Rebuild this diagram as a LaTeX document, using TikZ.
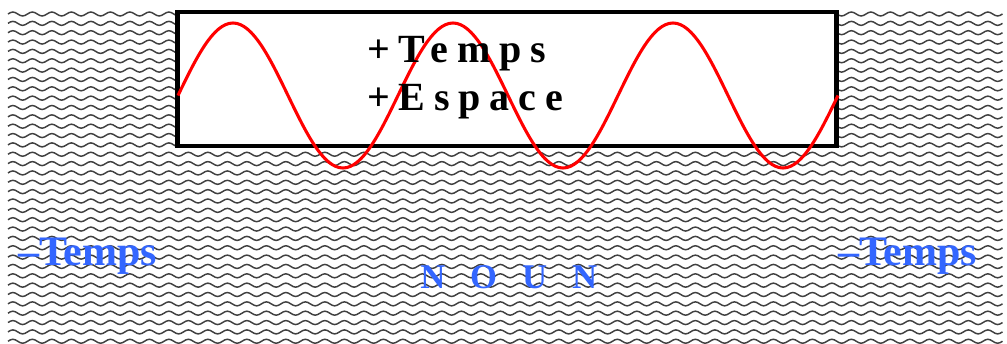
\documentclass[tikz,border=0pt]{standalone}
\usepackage{fontspec}
\setmainfont{Liberation Serif}
\usetikzlibrary{positioning}
\definecolor{nounblue}{RGB}{51,102,255}

\begin{document}
\begin{tikzpicture}[
    x=0.75pt, y=-0.75pt,
    wave/.style={draw=black!75, line width=1.1pt},
    frame/.style={draw=black, line width=3.6pt, fill=white},
    signal/.style={draw=red, line width=2.3pt},
    plus/.style={anchor=base west, inner sep=0pt, font=\bfseries\fontsize{30}{36}\selectfont\addfontfeature{LetterSpace=22}},
    minus/.style={anchor=base west, inner sep=0pt, text=nounblue, font=\bfseries\fontsize{31.5}{36}\selectfont}
]

\useasboundingbox (0,0) rectangle (1007,343);

% textured ground
\foreach \r in {0,...,35}
  \draw[wave] (8,{14+9.35*\r}) \foreach \k in {1,...,51} { sin ++(4.875,-2) cos ++(4.875,2) sin ++(4.875,2) cos ++(4.875,-2) };

% box and wave
\draw[frame] (177.5,12) rectangle (836.5,146);
\draw[signal] (178,95.5) \foreach \k in {1,2,3} { sin ++(55,-72.5) cos ++(55,72.5) sin ++(55,72.5) cos ++(55,-72.5) };

\node[plus] (time) at (367,62) {+Temps};
\node[plus] (space) at (367,110) {+Espace};
\node[minus] (lefttime) at (18,265) {–Temps};
\node[minus] (righttime) at (838,265) {–Temps};
\node[minus, font=\bfseries\fontsize{26}{30}\selectfont\addfontfeature{LetterSpace=72}] (noun) at (420,288) {NOUN};

\end{tikzpicture}
\end{document}
